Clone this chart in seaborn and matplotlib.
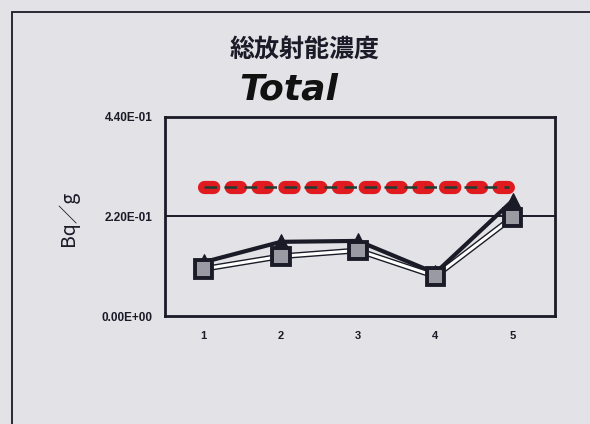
import matplotlib
matplotlib.use("Agg")
import matplotlib.pyplot as plt
import matplotlib.patheffects as pe
from matplotlib.patches import Rectangle
import seaborn as sns
import pandas as pd

# Sample number and measured concentrations (Bq/g)
samples = [1, 2, 3, 4, 5]
series_a = [0.119, 0.164, 0.166, 0.095, 0.255]   # triangles, dark line
series_b = [0.104, 0.132, 0.145, 0.088, 0.218]   # squares, light line
# Reference level drawn as a red dashed band
ref_x = [1.0, 4.95]
ref_y = [0.285, 0.285]

y_ticks = [0.0, 0.22, 0.44]
y_tick_labels = ["0.00E+00", "2.20E-01", "4.40E-01"]

bg = "#e3e2e7"
ink = "#1b1b28"

sns.set_theme(style="white")
plt.rcParams["font.family"] = ["Liberation Sans", "Noto Sans CJK JP", "DejaVu Sans"]

fig = plt.figure(figsize=(5.9, 4.24), dpi=100, facecolor=bg)
ax = fig.add_axes([0.2797, 0.2547, 0.661, 0.4694])
ax.set_facecolor(bg)

# outer frame of the sheet
fig.patches.append(Rectangle((12 / 590, -0.2), 1.2, 1 - 12 / 424 + 0.2,
                             transform=fig.transFigure, fill=False,
                             edgecolor=ink, linewidth=1.3))

# mid gridline
ax.axhline(0.22, color=ink, linewidth=1.4, zorder=1)

# red reference band
ax.plot(ref_x, ref_y, color="#e01a1f", linewidth=9.5, linestyle=(0, (0.7, 1.33)),
        dash_capstyle="round", zorder=2)
ax.plot(ref_x, ref_y, color="#1d3f33", linewidth=1.8, linestyle=(0, (5, 3)), zorder=3)

df = pd.DataFrame({"sample": samples + samples,
                   "value": series_a + series_b,
                   "series": ["A"] * 5 + ["B"] * 5})

sns.lineplot(data=df[df.series == "A"], x="sample", y="value", ax=ax,
             color=ink, linewidth=3, marker="^", markersize=11,
             markerfacecolor=ink, markeredgecolor=ink, zorder=4)
line_b = sns.lineplot(data=df[df.series == "B"], x="sample", y="value", ax=ax,
                      color="white", linewidth=2.2, marker="s", markersize=11,
                      markerfacecolor="#9a9aa2", markeredgecolor=ink,
                      markeredgewidth=1.4, zorder=5).lines[-1]
line_b.set_path_effects([pe.Stroke(linewidth=4.2, foreground=ink), pe.Normal()])

ax.set_xlim(0.5, 5.55)
ax.set_ylim(0, 0.44)
ax.set_xticks(samples)
ax.set_xticklabels([str(s) for s in samples], fontsize=8, fontweight="bold", color=ink)
ax.set_yticks(y_ticks)
ax.set_yticklabels(y_tick_labels, fontsize=8.5, fontweight="bold", color=ink)
ax.tick_params(axis="both", length=0)
ax.tick_params(axis="y", pad=9)
ax.tick_params(axis="x", pad=11)
ax.set_xlabel("")
ax.set_ylabel("")
for s in ax.spines.values():
    s.set_visible(True)
    s.set_color(ink)
    s.set_linewidth(2)

fig.text(305 / 590, 1 - 50 / 424, "総放射能濃度", ha="center", va="center",
         fontsize=18, color=ink, family=["Noto Sans CJK JP", "DejaVu Sans"],
         fontweight="bold")
fig.text(289 / 590, 1 - 89 / 424, "Total", ha="center", va="center",
         fontsize=26, color="#111111", family=["DejaVu Sans"],
         fontweight="bold", style="italic")
fig.text(68 / 590, 1 - 218 / 424, "Bq／g", ha="center", va="center", rotation=90,
         fontsize=14, color=ink, family=["Noto Sans CJK JP", "DejaVu Sans"])

fig.savefig("out.png", dpi=100, facecolor=bg)
